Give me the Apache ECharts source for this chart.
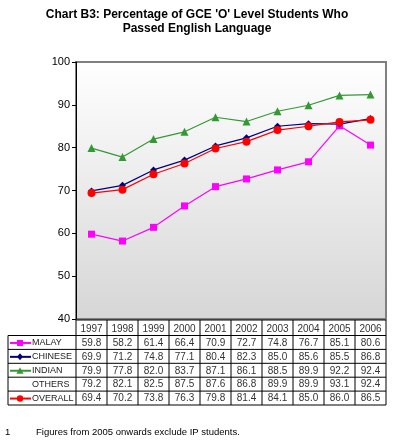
<!DOCTYPE html>
<html><head><meta charset="utf-8">
<script src="https://cdn.jsdelivr.net/npm/echarts@6/dist/echarts.min.js"></script>
<style>html,body{margin:0;padding:0;background:#fff}#c{width:395px;height:444px}</style>
</head><body><div id="c"></div>
<script>
const years = ['1997','1998','1999','2000','2001','2002','2003','2004','2005','2006'];
const malay   = [59.8,58.2,61.4,66.4,70.9,72.7,74.8,76.7,85.1,80.6];
const chinese = [69.9,71.2,74.8,77.1,80.4,82.3,85.0,85.6,85.5,86.8];
const indian  = [79.9,77.8,82.0,83.7,87.1,86.1,88.5,89.9,92.2,92.4];
const others  = [79.2,82.1,82.5,87.5,87.6,86.8,89.9,89.9,93.1,92.4];
const overall = [69.4,70.2,73.8,76.3,79.8,81.4,84.1,85.0,86.0,86.5];
const yTicks = [40,50,60,70,80,90,100];

const FONT = '"Liberation Sans", Arial, sans-serif';
const rows = [
  {name:'MALAY', data:malay, color:'#ff00ff', symbol:'rect', plot:true},
  {name:'CHINESE', data:chinese, color:'#000080', symbol:'diamond', plot:true},
  {name:'INDIAN', data:indian, color:'#339933', symbol:'triangle', plot:true},
  {name:'OTHERS', data:others, color:null, symbol:null, plot:false},
  {name:'OVERALL', data:overall, color:'#ff0000', symbol:'circle', plot:true}
];
const symSize = {rect:7, diamond:7, triangle:8, circle:8};

const chart = echarts.init(document.getElementById('c'), null, {renderer:'canvas'});
const G = {left:76, right:9, top:62, bottom:125};
const option = {
  animation:false,
  grid:{left:G.left, right:G.right, top:G.top, bottom:G.bottom, show:true,
    borderColor:'#808080', borderWidth:2,
    backgroundColor:new echarts.graphic.LinearGradient(0,0,0,1,[{offset:0,color:'#ffffff'},{offset:1,color:'#d6d6d6'}])},
  xAxis:{type:'category', data:years, boundaryGap:true,
    axisLine:{show:false}, axisTick:{show:false}, axisLabel:{show:false}},
  yAxis:{type:'value', min:yTicks[0], max:yTicks[yTicks.length-1], interval:10,
    axisLine:{show:true, lineStyle:{color:'#000', width:1}},
    axisTick:{show:true, length:4, lineStyle:{color:'#000'}},
    splitLine:{show:false},
    axisLabel:{fontFamily:FONT, fontSize:11, color:'#000', margin:6}},
  series: rows.filter(r=>r.plot).map(r=>({
    name:r.name, type:'line', data:r.data, symbol:r.symbol, symbolSize:symSize[r.symbol],
    z: r.name==='OVERALL'?5:3,
    lineStyle:{color:r.color, width:1.2}, itemStyle:{color:r.color}
  }))
};
chart.setOption(option);

// table
const g = [];
g.push({type:'text', x:197, y:8, style:{text:"Chart B3: Percentage of GCE 'O' Level Students Who\nPassed English Language", fontFamily:FONT, fontSize:12, fontWeight:'bold', fill:'#000', align:'center', verticalAlign:'top', lineHeight:14}, z:11});
const x0 = chart.convertToPixel({xAxisIndex:0}, 0);
const x1 = chart.convertToPixel({xAxisIndex:0}, 1);
const colW = x1 - x0;
const tLeft = x0 - colW/2;
const tRight = tLeft + colW*years.length;
const tTop = chart.convertToPixel({yAxisIndex:0}, yTicks[0]) + 1;
const headH = 15.5, rowH = 13.9;
const legLeft = 8;
const tBottom = tTop + headH + rowH*rows.length;
const line = (xa,ya,xb,yb)=>g.push({type:'line', shape:{x1:xa,y1:ya,x2:xb,y2:yb}, style:{stroke:'#000', lineWidth:1}, z:10});
line(tLeft, tTop, tRight, tTop);
for (let i=0;i<=rows.length;i++){ const y=tTop+headH+rowH*i; line(legLeft,y,tRight,y); }
for (let k=0;k<=years.length;k++){ const x=tLeft+colW*k; line(x,tTop,x,tBottom); }
line(legLeft, tTop+headH, legLeft, tBottom);
years.forEach((yr,i)=>{
  g.push({type:'text', x:tLeft+colW*(i+0.5), y:tTop+headH/2+1, style:{text:yr, fontFamily:FONT, fontSize:10, fill:'#333', align:'center', verticalAlign:'middle'}, z:11});
});
rows.forEach((r,ri)=>{
  const cy = tTop+headH+rowH*(ri+0.5)+0.5;
  r.data.forEach((v,i)=>{
    g.push({type:'text', x:tLeft+colW*(i+0.5), y:cy, style:{text:v.toFixed(1), fontFamily:FONT, fontSize:10, fill:'#333', align:'center', verticalAlign:'middle'}, z:11});
  });
  g.push({type:'text', x:32, y:cy, style:{text:r.name, fontFamily:FONT, fontSize:9, fill:'#222', align:'left', verticalAlign:'middle'}, z:11});
  if (r.color){
    g.push({type:'line', shape:{x1:10,y1:cy,x2:31,y2:cy}, style:{stroke:r.color, lineWidth:2}, z:11});
    const cx=20;
    if (r.symbol==='rect') g.push({type:'rect', shape:{x:cx-3,y:cy-3,width:6,height:6}, style:{fill:r.color}, z:12});
    if (r.symbol==='circle') g.push({type:'circle', shape:{cx:cx,cy:cy,r:3.2}, style:{fill:r.color}, z:12});
    if (r.symbol==='triangle') g.push({type:'polygon', shape:{points:[[cx,cy-3.5],[cx+3.5,cy+3],[cx-3.5,cy+3]]}, style:{fill:r.color}, z:12});
    if (r.symbol==='diamond') g.push({type:'polygon', shape:{points:[[cx,cy-3.5],[cx+3,cy],[cx,cy+3.5],[cx-3,cy]]}, style:{fill:r.color}, z:12});
  }
});
g.push({type:'text', x:5, y:432, style:{text:'1', fontFamily:FONT, fontSize:9.5, fill:'#000', verticalAlign:'middle'}, z:11});
g.push({type:'text', x:36, y:432, style:{text:'Figures from 2005 onwards exclude IP students.', fontFamily:FONT, fontSize:9.5, fill:'#000', verticalAlign:'middle'}, z:11});
chart.setOption({graphic:g});
</script></body></html>
